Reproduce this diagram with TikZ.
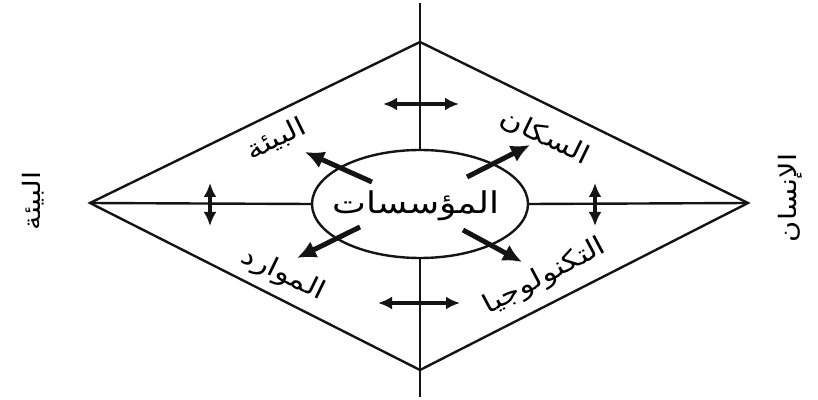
\documentclass[tikz,border=0pt]{standalone}
\usepackage{fontspec}
\usepackage{tikz}
\usetikzlibrary{arrows.meta,shapes.geometric}
\TeXXeTstate=1
\newfontfamily\arabicfont[Script=Arabic,FakeStretch=1.2]{DejaVu Sans}
\definecolor{inkline}{RGB}{20,20,20}
\tikzset{
  frameline/.style={draw=inkline,line width=2.4pt},
  flowarrow/.style={draw=inkline,line width=5pt,-{Latex[length=19pt,width=18pt]}},
  swaparrow/.style={draw=inkline,line width=3.2pt,{Latex[length=14pt,width=13pt]}-{Latex[length=14pt,width=13pt]}},
  corelabel/.style={font=\arabicfont\fontsize{30}{34}\selectfont},
  sidelabel/.style={font=\arabicfont\fontsize{26}{30}\selectfont},
  outlabel/.style={font=\arabicfont\fontsize{24}{28}\selectfont},
}
\newcommand{\ar}[1]{\beginR #1\endR}
\newcommand{\edgelabel}[5]{\node[sidelabel,rotate=#4] (#1) at (#2,#3) {\ar{#5}};}

\begin{document}
\begin{tikzpicture}[x=1pt,y=1pt]
        \useasboundingbox (0,0) rectangle (818,399);
        % diamond corners and axis ends
        \coordinate (west) at (90,196);
        \coordinate (north) at (420,357);
        \coordinate (east) at (748,196);
        \coordinate (south) at (420,29);
        \coordinate (axtop) at (420,396);
        \coordinate (axbot) at (420,2);
        \draw[frameline] (west) -- (north) -- (east) -- (south) -- cycle;
        \node[ellipse,frameline,minimum width=216pt,minimum height=108pt,inner sep=0pt] (core) at (420,195) {};
        \node[corelabel] (corename) at (416,193) {\ar{المؤسسات}};
        \draw[frameline] (axtop) -- (core.north);
        \draw[frameline] (core.south) -- (axbot);
        \draw[frameline] (west) -- (core.west);
        \draw[frameline] (core.east) -- (east);
        % outer labels
        \node[outlabel,rotate=90] (envout) at (33,198) {\ar{البيئة}};
        \node[outlabel,rotate=90] (manout) at (790,201) {\ar{الإنسان}};
        % edge labels
        \edgelabel{env}{276}{260}{26}{البيئة}
        \edgelabel{pop}{545}{262}{-26}{السكان}
        \edgelabel{res}{283}{124}{-26}{الموارد}
        \edgelabel{tec}{545}{122}{28}{التكنولوجيا}
        % arrows out of the core
        \coordinate (ulA) at (372,217); \coordinate (ulB) at (305,247);
        \coordinate (urA) at (467,222); \coordinate (urB) at (530,254);
        \coordinate (llA) at (360,172); \coordinate (llB) at (297,141);
        \coordinate (lrA) at (463,169); \coordinate (lrB) at (522,137);
        \draw[flowarrow] (ulA) -- (ulB);
        \draw[flowarrow] (urA) -- (urB);
        \draw[flowarrow] (llA) -- (llB);
        \draw[flowarrow] (lrA) -- (lrB);
        % two-way arrows on the axes
        \coordinate (tA) at (383,295); \coordinate (tB) at (459,295);
        \coordinate (bA) at (378,96); \coordinate (bB) at (460,96);
        \coordinate (lA) at (210,173); \coordinate (lB) at (210,216);
        \coordinate (rA) at (595,173); \coordinate (rB) at (595,216);
        \draw[swaparrow] (tA) -- (tB);
        \draw[swaparrow] (bA) -- (bB);
        \draw[swaparrow] (lA) -- (lB);
        \draw[swaparrow] (rA) -- (rB);
      \end{tikzpicture}
\end{document}
